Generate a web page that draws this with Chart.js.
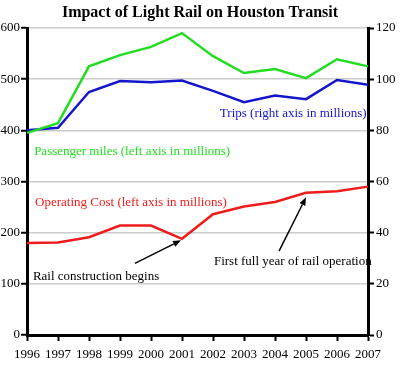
<!DOCTYPE html>
<html><head><meta charset="utf-8">
<script src="https://cdn.jsdelivr.net/npm/chart.js@4"></script>
<style>html,body{margin:0;padding:0;background:#fff;overflow:hidden}canvas{display:block}</style>
</head><body>
<canvas id="c" width="400" height="367"></canvas>
<script>
// ---- data ----
const years = ['1996','1997','1998','1999','2000','2001','2002','2003','2004','2005','2006','2007'];
const passengerMiles = [395, 414, 525, 547, 563, 590, 545, 512, 520, 502, 539, 525]; // left axis, millions
const trips = [80, 81, 95, 99.3, 98.8, 99.5, 95.4, 91, 93.6, 92.2, 99.7, 97.8];         // right axis, millions
const operatingCost = [180, 181, 191, 214, 214, 188, 236, 251, 260, 278, 281, 290];     // left axis, millions
const leftTicks = [0, 100, 200, 300, 400, 500, 600];
const rightTicks = [0, 20, 40, 60, 80, 100, 120];
const titleText = 'Impact of Light Rail on Houston Transit';

// ---- labels and arrows placed in data space (x = year index, y = left-axis value) ----
const labels = [
  {text: 'Trips (right axis in millions)', color: '#1515cc', x: 6.22, y: 432},
  {text: 'Passenger miles (left axis in millions)', color: '#22dd22', x: 0.23, y: 358},
  {text: 'Operating Cost (left axis in millions)', color: '#ee1c1c', x: 0.26, y: 259},
  {text: 'Rail construction begins', color: '#000', x: 0.19, y: 115},
  {text: 'First full year of rail operation', color: '#000', x: 6.03, y: 144}
];
const arrows = [
  {from: [3.48, 140], to: [4.97, 185]},
  {from: [8.13, 164], to: [9.0, 269]}
];

const SERIF = '"Liberation Serif", "DejaVu Serif", serif';

const annotationPlugin = {
  id: 'annot',
  afterDatasetsDraw(chart) {
    const ctx = chart.ctx, xs = chart.scales.x, ys = chart.scales.y;
    ctx.save();
    ctx.font = '13px ' + SERIF;
    ctx.textBaseline = 'middle';
    ctx.textAlign = 'left';
    labels.forEach(l => {
      ctx.fillStyle = l.color;
      ctx.fillText(l.text, xs.getPixelForValue(l.x), ys.getPixelForValue(l.y));
    });
    ctx.strokeStyle = '#000';
    ctx.fillStyle = '#000';
    ctx.lineWidth = 1.5;
    arrows.forEach(a => {
      const x1 = xs.getPixelForValue(a.from[0]), y1 = ys.getPixelForValue(a.from[1]);
      const x2 = xs.getPixelForValue(a.to[0]), y2 = ys.getPixelForValue(a.to[1]);
      const ang = Math.atan2(y2 - y1, x2 - x1);
      const hl = 8, hw = 3.2;
      const bx = x2 - hl * Math.cos(ang), by = y2 - hl * Math.sin(ang);
      ctx.beginPath(); ctx.moveTo(x1, y1); ctx.lineTo(bx, by); ctx.stroke();
      ctx.beginPath();
      ctx.moveTo(x2, y2);
      ctx.lineTo(bx + hw * Math.sin(ang), by - hw * Math.cos(ang));
      ctx.lineTo(bx - hw * Math.sin(ang), by + hw * Math.cos(ang));
      ctx.closePath(); ctx.fill();
    });
    ctx.restore();
  }
};

const tickFont = {family: SERIF, size: 13};

new Chart(document.getElementById('c'), {
  type: 'line',
  data: {
    labels: years,
    datasets: [
      {label: 'Passenger miles', data: passengerMiles, yAxisID: 'y', borderColor: '#22dd22', borderWidth: 2.5, pointRadius: 0, tension: 0},
      {label: 'Trips', data: trips, yAxisID: 'y2', borderColor: '#1515cc', borderWidth: 2.5, pointRadius: 0, tension: 0},
      {label: 'Operating Cost', data: operatingCost, yAxisID: 'y', borderColor: '#ee1c1c', borderWidth: 2.5, pointRadius: 0, tension: 0}
    ]
  },
  options: {
    responsive: false,
    animation: false,
    devicePixelRatio: 1,
    layout: {padding: {left: 0, right: 0, top: 0, bottom: 0}},
    plugins: {
      legend: {display: false},
      tooltip: {enabled: false},
      title: {
        display: true, text: titleText, color: '#000',
        font: {family: SERIF, size: 16, weight: 'bold', lineHeight: 1.2},
        padding: {top: 3, bottom: 5.8}
      }
    },
    scales: {
      x: {
        offset: false,
        grid: {drawOnChartArea: false, drawTicks: true, tickLength: 6, tickColor: '#000', tickWidth: 2},
        border: {display: true, color: '#000', width: 3},
        ticks: {color: '#000', font: tickFont, padding: 6, maxRotation: 0, autoSkip: false},
        afterFit(s) { s.height = 32; }
      },
      y: {
        position: 'left', min: 0, max: 600,
        afterBuildTicks(s) { s.ticks = leftTicks.map(v => ({value: v})); },
        grid: {color: '#cccccc', lineWidth: 1.5, drawTicks: true, tickLength: 6, tickColor: '#000', tickWidth: 2},
        border: {display: true, color: '#000', width: 3},
        ticks: {color: '#000', font: tickFont, padding: 1},
        afterFit(s) { s.width = 27; }
      },
      y2: {
        position: 'right', min: 0, max: 120,
        afterBuildTicks(s) { s.ticks = rightTicks.map(v => ({value: v})); },
        grid: {drawOnChartArea: false, drawTicks: true, tickLength: 6, tickColor: '#000', tickWidth: 2},
        border: {display: true, color: '#000', width: 3},
        ticks: {color: '#000', font: tickFont, padding: 2},
        afterFit(s) { s.width = 32; }
      }
    }
  },
  plugins: [annotationPlugin]
});
</script>
</body></html>
